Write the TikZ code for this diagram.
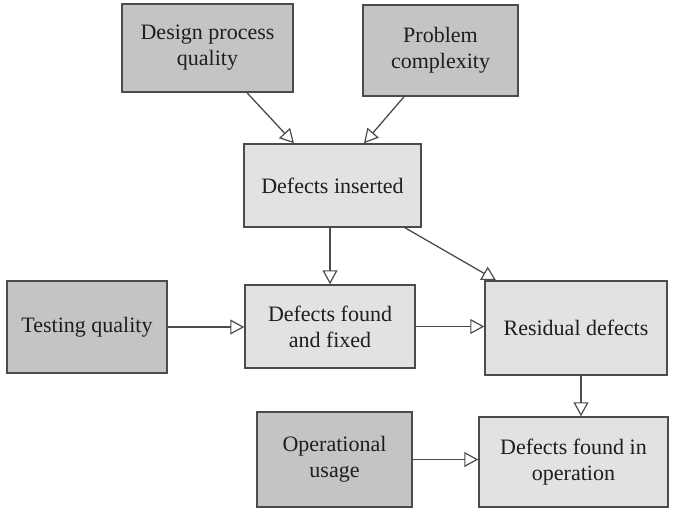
\documentclass[tikz,border=0pt]{standalone}
\usepackage{fontspec}
\setmainfont{Liberation Serif}
\usetikzlibrary{arrows.meta,calc}
\definecolor{darkbox}{RGB}{196,196,198}
\definecolor{lightbox}{RGB}{226,226,228}
\definecolor{edge}{RGB}{75,75,75}
\definecolor{txt}{RGB}{30,30,30}
\begin{document}
\begin{tikzpicture}[x=1pt,y=-1pt,
  box/.style={draw=edge,line width=1.5pt,rectangle,inner sep=0pt,align=center,
    text=txt,font=\fontsize{22}{26}\selectfont},
  darkb/.style={box,fill=darkbox},
  lightb/.style={box,fill=lightbox},
  arr/.style={draw=edge,line width=1.3pt,-{Triangle[open,length=14pt,width=15pt,line width=1.2pt]}}
]
\useasboundingbox (0,0) rectangle (676,512);
\node[darkb,minimum width=171pt,minimum height=88pt] (dpq) at (207.5,48) {Design process\\quality};
\node[darkb,minimum width=155pt,minimum height=91pt] (pc) at (440.5,50.5) {Problem\\complexity};
\node[lightb,minimum width=177pt,minimum height=83pt] (di) at (332.5,185.5) {Defects inserted};
\node[darkb,minimum width=160pt,minimum height=92pt] (tq) at (87,327) {Testing quality};
\node[lightb,minimum width=170pt,minimum height=83pt] (dff) at (330,326.5) {Defects found\\and fixed};
\node[lightb,minimum width=182pt,minimum height=94pt] (rd) at (576,328) {Residual defects};
\node[darkb,minimum width=155pt,minimum height=95pt] (ou) at (334.5,459.5) {Operational\\usage};
\node[lightb,minimum width=189pt,minimum height=90pt] (dfo) at (573.5,462) {Defects found in\\operation};

\draw[arr] ([xshift=39.5pt]dpq.south) -- ([xshift=-38.5pt]di.north);
\draw[arr] ([xshift=-36.5pt]pc.south) -- ([xshift=31.5pt]di.north);
\draw[arr] (di.south -| dff.north) -- (dff.north);
\draw[arr] ([xshift=72.5pt]di.south) -- ([xshift=-80pt]rd.north);
\draw[arr] (tq.east) -- (tq.east -| dff.west);
\draw[arr] (dff.east) -- (dff.east -| rd.west);
\draw[arr] ([xshift=5pt]rd.south) -- ([xshift=5pt]rd.south |- dfo.north);
\draw[arr] (ou.east) -- (ou.east -| dfo.west);
\end{tikzpicture}
\end{document}
